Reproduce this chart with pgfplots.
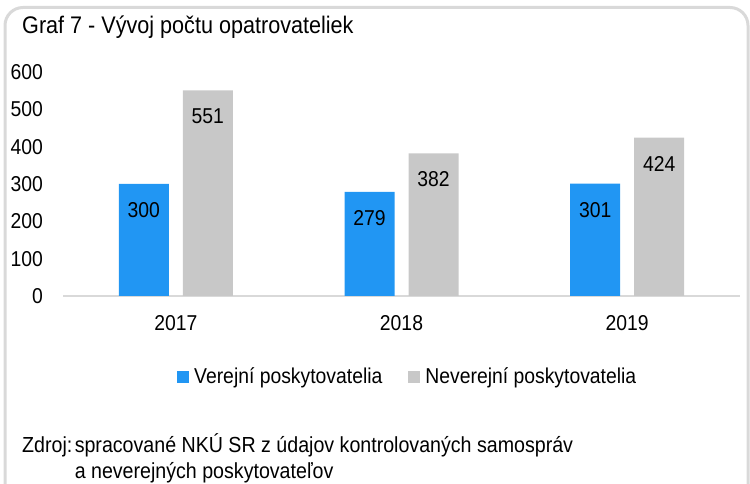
\documentclass[border=0pt]{standalone}
\usepackage{pgfplots}
\pgfplotsset{compat=1.18}
\usepackage{fontspec}
\setmainfont{Liberation Sans}[FakeStretch=0.9]
\definecolor{barblue}{HTML}{2196F3}
\definecolor{bargray}{HTML}{C8C8C8}
\definecolor{framegray}{HTML}{D9D9D9}
\begin{document}
\begin{tikzpicture}[x=1pt,y=1pt]
\fontsize{21.5}{25}\selectfont
\draw[framegray, line width=3pt, rounded corners=18pt] (5,-30) -- (5,476.5) -- (748,476.5) -- (748,-30);
\node[anchor=base west, inner sep=0pt, font=\fontsize{24}{28}\selectfont] at (22,450) {Graf 7 - Vývoj počtu opatrovateliek};
\begin{axis}[
  at={(63pt,188pt)}, anchor=south west,
  scale only axis, width=677pt, height=224pt,
  xmin=-0.5, xmax=2.5, ymin=0, ymax=600,
  ybar=14pt, bar width=50pt,
  axis x line*=bottom, axis y line*=left,
  x axis line style={framegray, line width=2.3pt, -},
  y axis line style={draw=none},
  major tick length=0pt, tick style={draw=none},
  xtick={0,1,2}, xticklabels={2017,2018,2019},
  ytick={0,100,...,600},
  /pgf/number format/assume math mode=true,
  tick label style={font=\fontsize{21.5}{25}\selectfont},
  yticklabel style={anchor=east, inner sep=0pt, xshift=-20pt},
  xticklabel style={anchor=north, inner sep=0pt, yshift=-19pt},
  nodes near coords,
  every node near coord/.append style={anchor=center, yshift=-26pt, text=black, font=\fontsize{21.5}{25}\selectfont},
  legend columns=2,
  legend image code/.code={\fill[#1] (0pt,-6pt) rectangle (12pt,6pt);},
  legend style={draw=none, fill=none, at={(0.1684,-0.3616)}, anchor=west, inner sep=0pt,
    font=\fontsize{21.5}{25}\selectfont, nodes={inner xsep=5pt, inner ysep=0pt},
    /tikz/every even column/.append style={column sep=21pt}},
]
\addplot[fill=barblue, draw=none] coordinates {(0,300) (1,279) (2,301)};
\addplot[fill=bargray, draw=none] coordinates {(0,551) (1,382) (2,424)};
\legend{Verejní poskytovatelia, Neverejní poskytovatelia}
\end{axis}
\begin{scope}[font=\fontsize{21.8}{26}\selectfont]
\node[anchor=base west, inner sep=0pt] (z) at (22,31) {Zdroj:\kern2pt\mbox{}};
\node[anchor=base west, inner sep=0pt] at (z.base east) {spracované NKÚ SR z údajov kontrolovaných samospráv};
\node[anchor=base west, inner sep=0pt] at ([yshift=-26pt]z.base east) {a neverejných poskytovateľov};
\end{scope}
\pgfresetboundingbox
\useasboundingbox (0,0) rectangle (750,484);
\end{tikzpicture}
\end{document}
